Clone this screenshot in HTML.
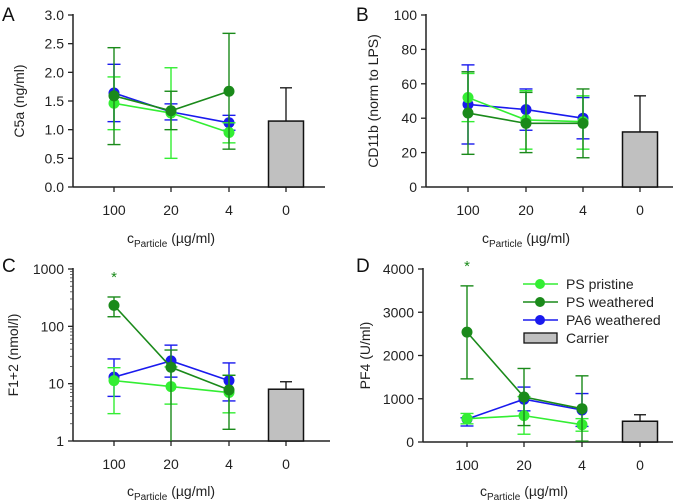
<!DOCTYPE html>
<html><head><meta charset="utf-8"><style>
body{margin:0;background:#fff;}
svg{display:block;font-family:"Liberation Sans",sans-serif;}
</style></head><body>
<svg id="fig" width="685" height="504" viewBox="0 0 685 504" xmlns="http://www.w3.org/2000/svg"></svg>
<script>
// Shared categories
const categories = ["100","20","4","0"];
// Panel A: C5a
const aPristine = [1.46,1.29,0.95], aPristineLo=[1.00,0.50,0.77], aPristineHi=[1.92,2.08,1.12];
const aWeathered = [1.59,1.33,1.67], aWeatheredLo=[0.74,1.00,0.66], aWeatheredHi=[2.43,1.67,2.68];
const aPA6 = [1.64,1.31,1.12], aPA6Lo=[1.14,1.17,0.99], aPA6Hi=[2.14,1.45,1.25];
const aCarrier = 1.15, aCarrierHi = 1.73;
const aTicks = [0,0.5,1,1.5,2,2.5,3], aTickLabels=["0.0","0.5","1.0","1.5","2.0","2.5","3.0"];
// Panel B: CD11b
const bPristine=[52,39,38], bPristineLo=[38,22,22], bPristineHi=[66,56,53];
const bWeathered=[43,37,37], bWeatheredLo=[19,20,17], bWeatheredHi=[67,55,57];
const bPA6=[48,45,40], bPA6Lo=[25,33,28], bPA6Hi=[71,57,52];
const bCarrier=32, bCarrierHi=53;
const bTicks=[0,20,40,60,80,100], bTickLabels=["0","20","40","60","80","100"];
// Panel C: F1+2 (log)
const cPristine=[11.3,8.9,7.0], cPristineLo=[3.0,4.4,3.1], cPristineHi=[19,19.6,14];
const cWeathered=[232,19.3,7.8], cWeatheredLo=[147,1,1.6], cWeatheredHi=[325,38.6,14];
const cPA6=[13,25,11.3], cPA6Lo=[6,13,5], cPA6Hi=[27,47,23];
const cCarrier=8.0, cCarrierHi=10.8;
const cTicks=[1,10,100,1000], cTickLabels=["1","10","100","1000"];
// Panel D: PF4
const dPristine=[540,610,400], dPristineLo=[420,180,250], dPristineHi=[660,1050,540];
const dWeathered=[2540,1040,770], dWeatheredLo=[1460,380,20], dWeatheredHi=[3610,1700,1530];
const dPA6=[530,990,740], dPA6Lo=[370,720,360], dPA6Hi=[560,1270,1120];
const dCarrier=480, dCarrierHi=630;
const dTicks=[0,1000,2000,3000,4000], dTickLabels=["0","1000","2000","3000","4000"];

const NS="http://www.w3.org/2000/svg";
const svg=document.getElementById('fig');
function mk(tag,attrs,parent,text){const e=document.createElementNS(NS,tag);for(const k in attrs)e.setAttribute(k,attrs[k]);if(text!==undefined)e.textContent=text;(parent||svg).appendChild(e);return e;}
const COL={p:"#33ee33",w:"#1a8a1a",b:"#1a1aee"};

function panel(cfg){
  const g=mk('g',{});
  
  
  const yS=v=>{ if(cfg.log){const l=Math.log10(v),a=Math.log10(cfg.min),b=Math.log10(cfg.max);return cfg.y0-(l-a)/(b-a)*(cfg.y0-cfg.y1);} return cfg.y0-(v-cfg.min)/(cfg.max-cfg.min)*(cfg.y0-cfg.y1);};
  const xS=i=>cfg.xs[i];
  // letter
  const L=mk('text',{x:cfg.lx,y:cfg.ly,'font-size':19,fill:'#111'},g,cfg.letter);
  
  // axes
  const ya=mk('line',{x1:cfg.ax,y1:cfg.y1-1,x2:cfg.ax,y2:cfg.y0,stroke:'#222','stroke-width':1.5},g);
  
  const xa=mk('line',{x1:cfg.ax,y1:cfg.y0,x2:cfg.xr,y2:cfg.y0,stroke:'#222','stroke-width':1.5},g);
  
  cfg.ticks.forEach((t,i)=>{
    const y=yS(t);
    mk('line',{x1:cfg.ax-5,y1:y,x2:cfg.ax,y2:y,stroke:'#222','stroke-width':1.3},g);
    const tl=mk('text',{x:cfg.ax-9,y:y+5,'font-size':14,'text-anchor':'end',fill:'#222'},g,cfg.tickLabels[i]);
    
  });
  if(cfg.log){
    for(let d=1;d<1000;d*=10)for(let k=2;k<10;k++){const y=yS(d*k);mk('line',{x1:cfg.ax-3,y1:y,x2:cfg.ax,y2:y,stroke:'#444','stroke-width':0.8},g);}
  }
  categories.forEach((c,i)=>{
    const x=xS(i);
    mk('line',{x1:x,y1:cfg.y0,x2:x,y2:cfg.y0+5,stroke:'#222','stroke-width':1.3},g);
    const tl=mk('text',{x:x,y:cfg.y0+28,'font-size':14,'text-anchor':'middle',fill:'#222'},g,c);
    
  });
  // y title
  const yt=mk('text',{x:0,y:0,'font-size':14,'text-anchor':'middle',fill:'#222',transform:`translate(${cfg.ytx},${(cfg.y0+cfg.y1)/2}) rotate(-90)`},g,cfg.ytitle);
  
  const xt=mk('text',{x:cfg.xtx,y:cfg.xty,'font-size':14,'text-anchor':'middle',fill:'#222'},g);
  
  mk('tspan',{},xt,'c');mk('tspan',{'font-size':10,dy:4},xt,'Particle');mk('tspan',{dy:-4},xt,' (µg/ml)');
  // carrier bar
  const bx=xS(3), bw=35;
  const ey=yS(cfg.carrierHi), by=yS(cfg.carrier);
  mk('line',{x1:bx,y1:ey,x2:bx,y2:by,stroke:'#111','stroke-width':1.3},g);
  mk('line',{x1:bx-6,y1:ey,x2:bx+6,y2:ey,stroke:'#111','stroke-width':1.3},g);
  const bar=mk('rect',{x:bx-bw/2,y:by,width:bw,height:cfg.y0-by,fill:'#c0c0c0',stroke:'#111','stroke-width':1.5},g);
  
  // series
  cfg.series.forEach(s=>{
    const sg=mk('g',{},g);
    
    s.lo.forEach((_,i)=>{
      const x=xS(i),yl=yS(Math.max(s.lo[i],cfg.min)),yh=yS(s.hi[i]);
      mk('line',{x1:x,y1:yl,x2:x,y2:yh,stroke:s.c,'stroke-width':1.4},sg);
      mk('line',{x1:x-6.5,y1:yh,x2:x+6.5,y2:yh,stroke:s.c,'stroke-width':1.4},sg);
      if(s.lo[i]>cfg.min) mk('line',{x1:x-6.5,y1:yl,x2:x+6.5,y2:yl,stroke:s.c,'stroke-width':1.4},sg);
    });
    const pts=s.v.map((v,i)=>xS(i)+','+yS(v)).join(' ');
    mk('polyline',{points:pts,fill:'none',stroke:s.c,'stroke-width':1.6},sg);
    s.v.forEach((v,i)=>{const m=mk('circle',{cx:xS(i),cy:yS(v),r:5.5,fill:s.c},sg);
      });
  });
  if(cfg.star){const st=mk('text',{x:xS(0),y:cfg.star,'font-size':15,'text-anchor':'middle',fill:COL.w},g,'*');
    }
  return g;
}
function ser(p,lo,hi,w,wlo,whi,b,blo,bhi){return [
  {name:'series-pa6-weathered',c:COL.b,v:b,lo:blo,hi:bhi},
  {name:'series-ps-pristine',c:COL.p,v:p,lo:lo,hi:hi},
  {name:'series-ps-weathered',c:COL.w,v:w,lo:wlo,hi:whi}];}

panel({name:'panel-a',letter:'A',lx:2,ly:21,ax:73,xr:325,y0:187,y1:15,min:0,max:3,ticks:aTicks,tickLabels:aTickLabels,
  xs:[114,171,229,286],ytx:24,ytitle:'C5a (ng/ml)',xtx:171,xty:243,carrier:aCarrier,carrierHi:aCarrierHi,
  series:ser(aPristine,aPristineLo,aPristineHi,aWeathered,aWeatheredLo,aWeatheredHi,aPA6,aPA6Lo,aPA6Hi)});
panel({name:'panel-b',letter:'B',lx:356,ly:21,ax:426,xr:673,y0:187,y1:15,min:0,max:100,ticks:bTicks,tickLabels:bTickLabels,
  xs:[468,526,583,640],ytx:378,ytitle:'CD11b (norm to LPS)',xtx:526,xty:243,carrier:bCarrier,carrierHi:bCarrierHi,
  series:ser(bPristine,bPristineLo,bPristineHi,bWeathered,bWeatheredLo,bWeatheredHi,bPA6,bPA6Lo,bPA6Hi)});
panel({name:'panel-c',letter:'C',lx:2,ly:272,ax:73,xr:330,y0:441,y1:269,min:1,max:1000,log:true,ticks:cTicks,tickLabels:cTickLabels,
  xs:[114,171,229,286],ytx:18,ytitle:'F1+2 (nmol/l)',xtx:171,xty:496,carrier:cCarrier,carrierHi:cCarrierHi,star:282,
  series:ser(cPristine,cPristineLo,cPristineHi,cWeathered,cWeatheredLo,cWeatheredHi,cPA6,cPA6Lo,cPA6Hi)});
panel({name:'panel-d',letter:'D',lx:356,ly:272,ax:423,xr:673,y0:442,y1:269,min:0,max:4000,ticks:dTicks,tickLabels:dTickLabels,
  xs:[467,524,582,640],ytx:370,ytitle:'PF4 (U/ml)',xtx:524,xty:496,carrier:dCarrier,carrierHi:dCarrierHi,star:271,
  series:ser(dPristine,dPristineLo,dPristineHi,dWeathered,dWeatheredLo,dWeatheredHi,dPA6,dPA6Lo,dPA6Hi)});

// legend
const lg=mk('g',{});

const legLabels=["PS pristine","PS weathered","PA6 weathered","Carrier"];
const legColors=[COL.p,COL.w,COL.b,null];
const legY=[284,302,320,338];
legLabels.forEach((t,i)=>{
  const e=mk('g',{},lg);
  
  if(legColors[i]){mk('line',{x1:523,y1:legY[i],x2:558,y2:legY[i],stroke:legColors[i],'stroke-width':1.6},e);
    mk('circle',{cx:540,cy:legY[i],r:5,fill:legColors[i]},e);}
  else mk('rect',{x:524,y:legY[i]-5,width:33,height:10,fill:'#c0c0c0',stroke:'#111','stroke-width':1.3},e);
  mk('text',{x:566,y:legY[i]+5,'font-size':14,fill:'#222'},e,t);
});
</script>
</body></html>
